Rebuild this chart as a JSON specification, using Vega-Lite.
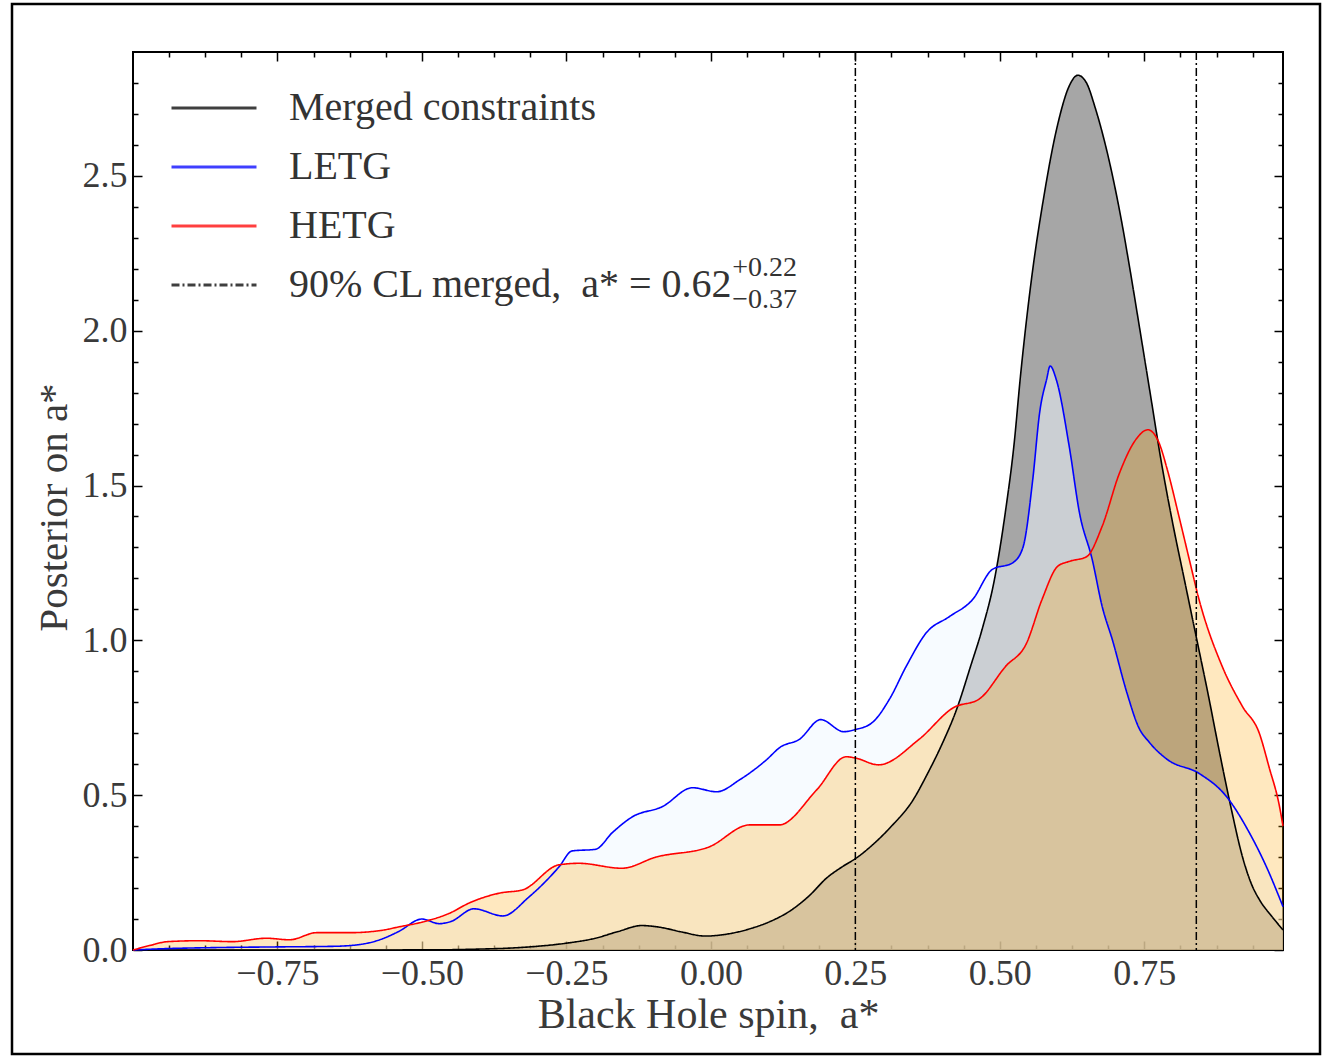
{
  "$schema": "https://vega.github.io/schema/vega-lite/v6.json",
  "width": 1150,
  "height": 898,
  "autosize": {"type": "none"},
  "padding": {"left": 133, "top": 52, "right": 42, "bottom": 107},
  "background": "white",
  "config": {
    "view": {"stroke": "black", "strokeWidth": 2},
    "font": "Liberation Serif",
    "axis": {
      "labelFont": "Liberation Serif",
      "titleFont": "Liberation Serif",
      "titleFontWeight": "normal",
      "labelColor": "#3a3a3a",
      "titleColor": "#3a3a3a",
      "grid": false,
      "domain": false,
      "tickColor": "black",
      "tickWidth": 1.5
    }
  },
  "datasets": {
    "curves": [
      {"series": "Merged constraints", "spin": -1.0, "density": 0},
      {"series": "Merged constraints", "spin": -0.6, "density": 0},
      {"series": "Merged constraints", "spin": -0.5, "density": 0.0005},
      {"series": "Merged constraints", "spin": -0.45, "density": 0.001},
      {"series": "Merged constraints", "spin": -0.4, "density": 0.003},
      {"series": "Merged constraints", "spin": -0.35, "density": 0.006},
      {"series": "Merged constraints", "spin": -0.3, "density": 0.012},
      {"series": "Merged constraints", "spin": -0.25, "density": 0.022},
      {"series": "Merged constraints", "spin": -0.2, "density": 0.038},
      {"series": "Merged constraints", "spin": -0.16, "density": 0.06},
      {"series": "Merged constraints", "spin": -0.12, "density": 0.079},
      {"series": "Merged constraints", "spin": -0.09, "density": 0.074},
      {"series": "Merged constraints", "spin": -0.05, "density": 0.058},
      {"series": "Merged constraints", "spin": -0.01, "density": 0.045},
      {"series": "Merged constraints", "spin": 0.03, "density": 0.052},
      {"series": "Merged constraints", "spin": 0.07, "density": 0.07},
      {"series": "Merged constraints", "spin": 0.1, "density": 0.09},
      {"series": "Merged constraints", "spin": 0.14, "density": 0.13},
      {"series": "Merged constraints", "spin": 0.17, "density": 0.175},
      {"series": "Merged constraints", "spin": 0.2, "density": 0.232},
      {"series": "Merged constraints", "spin": 0.23, "density": 0.272},
      {"series": "Merged constraints", "spin": 0.25, "density": 0.295},
      {"series": "Merged constraints", "spin": 0.28, "density": 0.34},
      {"series": "Merged constraints", "spin": 0.31, "density": 0.395},
      {"series": "Merged constraints", "spin": 0.35, "density": 0.485},
      {"series": "Merged constraints", "spin": 0.375, "density": 0.57},
      {"series": "Merged constraints", "spin": 0.4, "density": 0.665},
      {"series": "Merged constraints", "spin": 0.425, "density": 0.776},
      {"series": "Merged constraints", "spin": 0.45, "density": 0.92},
      {"series": "Merged constraints", "spin": 0.47, "density": 1.04},
      {"series": "Merged constraints", "spin": 0.49, "density": 1.19},
      {"series": "Merged constraints", "spin": 0.51, "density": 1.42},
      {"series": "Merged constraints", "spin": 0.525, "density": 1.64},
      {"series": "Merged constraints", "spin": 0.535, "density": 1.84},
      {"series": "Merged constraints", "spin": 0.555, "density": 2.17},
      {"series": "Merged constraints", "spin": 0.575, "density": 2.42},
      {"series": "Merged constraints", "spin": 0.6, "density": 2.665},
      {"series": "Merged constraints", "spin": 0.62, "density": 2.79},
      {"series": "Merged constraints", "spin": 0.635, "density": 2.825},
      {"series": "Merged constraints", "spin": 0.65, "density": 2.8},
      {"series": "Merged constraints", "spin": 0.665, "density": 2.72},
      {"series": "Merged constraints", "spin": 0.68, "density": 2.62},
      {"series": "Merged constraints", "spin": 0.695, "density": 2.5},
      {"series": "Merged constraints", "spin": 0.71, "density": 2.36},
      {"series": "Merged constraints", "spin": 0.725, "density": 2.2},
      {"series": "Merged constraints", "spin": 0.74, "density": 2.03},
      {"series": "Merged constraints", "spin": 0.76, "density": 1.8},
      {"series": "Merged constraints", "spin": 0.78, "density": 1.57},
      {"series": "Merged constraints", "spin": 0.8, "density": 1.37},
      {"series": "Merged constraints", "spin": 0.82, "density": 1.19},
      {"series": "Merged constraints", "spin": 0.84, "density": 1.01},
      {"series": "Merged constraints", "spin": 0.86, "density": 0.83},
      {"series": "Merged constraints", "spin": 0.88, "density": 0.64},
      {"series": "Merged constraints", "spin": 0.9, "density": 0.46},
      {"series": "Merged constraints", "spin": 0.92, "density": 0.3},
      {"series": "Merged constraints", "spin": 0.935, "density": 0.215},
      {"series": "Merged constraints", "spin": 0.95, "density": 0.16},
      {"series": "Merged constraints", "spin": 0.97, "density": 0.11},
      {"series": "Merged constraints", "spin": 0.99, "density": 0.065},

      {"series": "LETG", "spin": -1.0, "density": 0},
      {"series": "LETG", "spin": -0.95, "density": 0.004},
      {"series": "LETG", "spin": -0.85, "density": 0.008},
      {"series": "LETG", "spin": -0.75, "density": 0.01},
      {"series": "LETG", "spin": -0.65, "density": 0.012},
      {"series": "LETG", "spin": -0.6, "density": 0.02},
      {"series": "LETG", "spin": -0.57, "density": 0.035},
      {"series": "LETG", "spin": -0.54, "density": 0.06},
      {"series": "LETG", "spin": -0.5, "density": 0.1},
      {"series": "LETG", "spin": -0.47, "density": 0.085},
      {"series": "LETG", "spin": -0.45, "density": 0.092},
      {"series": "LETG", "spin": -0.41, "density": 0.133},
      {"series": "LETG", "spin": -0.36, "density": 0.11},
      {"series": "LETG", "spin": -0.315, "density": 0.171},
      {"series": "LETG", "spin": -0.263, "density": 0.268},
      {"series": "LETG", "spin": -0.24, "density": 0.32},
      {"series": "LETG", "spin": -0.2, "density": 0.325},
      {"series": "LETG", "spin": -0.17, "density": 0.38},
      {"series": "LETG", "spin": -0.136, "density": 0.43},
      {"series": "LETG", "spin": -0.084, "density": 0.463},
      {"series": "LETG", "spin": -0.032, "density": 0.524},
      {"series": "LETG", "spin": 0.01, "density": 0.511},
      {"series": "LETG", "spin": 0.05, "density": 0.55},
      {"series": "LETG", "spin": 0.096, "density": 0.614},
      {"series": "LETG", "spin": 0.12, "density": 0.655},
      {"series": "LETG", "spin": 0.153, "density": 0.68},
      {"series": "LETG", "spin": 0.19, "density": 0.744},
      {"series": "LETG", "spin": 0.23, "density": 0.705},
      {"series": "LETG", "spin": 0.25, "density": 0.712},
      {"series": "LETG", "spin": 0.279, "density": 0.734},
      {"series": "LETG", "spin": 0.309, "density": 0.81},
      {"series": "LETG", "spin": 0.338, "density": 0.916},
      {"series": "LETG", "spin": 0.373, "density": 1.025},
      {"series": "LETG", "spin": 0.413, "density": 1.077},
      {"series": "LETG", "spin": 0.453, "density": 1.132},
      {"series": "LETG", "spin": 0.487, "density": 1.229},
      {"series": "LETG", "spin": 0.522, "density": 1.25},
      {"series": "LETG", "spin": 0.54, "density": 1.3},
      {"series": "LETG", "spin": 0.557, "density": 1.52},
      {"series": "LETG", "spin": 0.569, "density": 1.737},
      {"series": "LETG", "spin": 0.581, "density": 1.843},
      {"series": "LETG", "spin": 0.587, "density": 1.886},
      {"series": "LETG", "spin": 0.598, "density": 1.84},
      {"series": "LETG", "spin": 0.62, "density": 1.627},
      {"series": "LETG", "spin": 0.638, "density": 1.41},
      {"series": "LETG", "spin": 0.66, "density": 1.26},
      {"series": "LETG", "spin": 0.677, "density": 1.11},
      {"series": "LETG", "spin": 0.695, "density": 1.0},
      {"series": "LETG", "spin": 0.72, "density": 0.83},
      {"series": "LETG", "spin": 0.74, "density": 0.72},
      {"series": "LETG", "spin": 0.759, "density": 0.67},
      {"series": "LETG", "spin": 0.79, "density": 0.615},
      {"series": "LETG", "spin": 0.845, "density": 0.57},
      {"series": "LETG", "spin": 0.892, "density": 0.496},
      {"series": "LETG", "spin": 0.932, "density": 0.378},
      {"series": "LETG", "spin": 0.961, "density": 0.27},
      {"series": "LETG", "spin": 0.99, "density": 0.14},

      {"series": "HETG", "spin": -1.0, "density": 0},
      {"series": "HETG", "spin": -0.97, "density": 0.015},
      {"series": "HETG", "spin": -0.94, "density": 0.027},
      {"series": "HETG", "spin": -0.885, "density": 0.03},
      {"series": "HETG", "spin": -0.828, "density": 0.027},
      {"series": "HETG", "spin": -0.769, "density": 0.038},
      {"series": "HETG", "spin": -0.729, "density": 0.033},
      {"series": "HETG", "spin": -0.682, "density": 0.056},
      {"series": "HETG", "spin": -0.625, "density": 0.056},
      {"series": "HETG", "spin": -0.568, "density": 0.064},
      {"series": "HETG", "spin": -0.539, "density": 0.075},
      {"series": "HETG", "spin": -0.5, "density": 0.09},
      {"series": "HETG", "spin": -0.452, "density": 0.119},
      {"series": "HETG", "spin": -0.418, "density": 0.152},
      {"series": "HETG", "spin": -0.365, "density": 0.184},
      {"series": "HETG", "spin": -0.326, "density": 0.194},
      {"series": "HETG", "spin": -0.263, "density": 0.275},
      {"series": "HETG", "spin": -0.228, "density": 0.28},
      {"series": "HETG", "spin": -0.154, "density": 0.264},
      {"series": "HETG", "spin": -0.095, "density": 0.3},
      {"series": "HETG", "spin": -0.003, "density": 0.333},
      {"series": "HETG", "spin": 0.067, "density": 0.404},
      {"series": "HETG", "spin": 0.118, "density": 0.404},
      {"series": "HETG", "spin": 0.183, "density": 0.517},
      {"series": "HETG", "spin": 0.234, "density": 0.624},
      {"series": "HETG", "spin": 0.25, "density": 0.62},
      {"series": "HETG", "spin": 0.29, "density": 0.598},
      {"series": "HETG", "spin": 0.36, "density": 0.68},
      {"series": "HETG", "spin": 0.42, "density": 0.783},
      {"series": "HETG", "spin": 0.464, "density": 0.81},
      {"series": "HETG", "spin": 0.51, "density": 0.916},
      {"series": "HETG", "spin": 0.546, "density": 0.99},
      {"series": "HETG", "spin": 0.573, "density": 1.132},
      {"series": "HETG", "spin": 0.6, "density": 1.239},
      {"series": "HETG", "spin": 0.62, "density": 1.255},
      {"series": "HETG", "spin": 0.65, "density": 1.27},
      {"series": "HETG", "spin": 0.677, "density": 1.368},
      {"series": "HETG", "spin": 0.707, "density": 1.54},
      {"series": "HETG", "spin": 0.736, "density": 1.65},
      {"series": "HETG", "spin": 0.756, "density": 1.68},
      {"series": "HETG", "spin": 0.775, "density": 1.64},
      {"series": "HETG", "spin": 0.79, "density": 1.55},
      {"series": "HETG", "spin": 0.81, "density": 1.4},
      {"series": "HETG", "spin": 0.828, "density": 1.26},
      {"series": "HETG", "spin": 0.845, "density": 1.13},
      {"series": "HETG", "spin": 0.885, "density": 0.915},
      {"series": "HETG", "spin": 0.92, "density": 0.786},
      {"series": "HETG", "spin": 0.949, "density": 0.7},
      {"series": "HETG", "spin": 0.966, "density": 0.59},
      {"series": "HETG", "spin": 0.984, "density": 0.463},
      {"series": "HETG", "spin": 0.99, "density": 0.4}
    ],
    "bounds": [
      {"series": "90% CL merged,\u00a0\u00a0a* = 0.62", "spin": 0.25},
      {"series": "90% CL merged,\u00a0\u00a0a* = 0.62", "spin": 0.84}
    ]
  },
  "layer": [
    {
      "description": "Merged posterior, filled; carries the labelled bottom and left axes",
      "data": {"name": "curves"},
      "transform": [{"filter": "datum.series === 'Merged constraints'"}],
      "mark": {"type": "area", "interpolate": "monotone", "color": "#808080", "fillOpacity": 0.7},
      "encoding": {
        "x": {
          "field": "spin", "type": "quantitative",
          "scale": {"domain": [-1, 0.99], "nice": false, "zero": false},
          "axis": {
            "orient": "bottom",
            "values": [-0.75, -0.5, -0.25, 0, 0.25, 0.5, 0.75],
            "format": ".2f",
            "tickSize": -9,
            "labelPadding": 15,
            "labelFontSize": 36,
            "title": "Black Hole spin,\u00a0\u00a0a*",
            "titleFontSize": 42,
            "titleX": 575,
            "titleY": 77,
            "titleBaseline": "alphabetic"
          }
        },
        "y": {
          "field": "density", "type": "quantitative",
          "scale": {"domain": [0, 2.9], "nice": false},
          "axis": {
            "orient": "left",
            "values": [0, 0.5, 1, 1.5, 2, 2.5],
            "format": ".1f",
            "tickSize": -9,
            "labelPadding": 15,
            "labelFontSize": 36,
            "title": "Posterior on a*",
            "titleFontSize": 41,
            "titleAngle": -90,
            "titleX": -67,
            "titleY": 455,
            "titleBaseline": "alphabetic"
          }
        }
      }
    },
    {
      "description": "LETG posterior, filled; carries the bottom and left minor ticks",
      "data": {"name": "curves"},
      "transform": [{"filter": "datum.series === 'LETG'"}],
      "mark": {"type": "area", "interpolate": "monotone", "color": "#f0f8ff", "fillOpacity": 0.5},
      "encoding": {
        "x": {
          "field": "spin", "type": "quantitative",
          "axis": {
            "orient": "bottom", "labels": false, "title": null, "tickSize": -5,
            "values": [-0.9375, -0.875, -0.8125, -0.6875, -0.625, -0.5625, -0.4375, -0.375, -0.3125, -0.1875, -0.125, -0.0625, 0.0625, 0.125, 0.1875, 0.3125, 0.375, 0.4375, 0.5625, 0.625, 0.6875, 0.8125, 0.875, 0.9375]
          }
        },
        "y": {
          "field": "density", "type": "quantitative",
          "axis": {
            "orient": "left", "labels": false, "title": null, "tickSize": -5,
            "values": [0.1, 0.2, 0.3, 0.4, 0.6, 0.7, 0.8, 0.9, 1.1, 1.2, 1.3, 1.4, 1.6, 1.7, 1.8, 1.9, 2.1, 2.2, 2.3, 2.4, 2.6, 2.7, 2.8]
          }
        }
      }
    },
    {
      "description": "HETG posterior, filled; carries the top and right major ticks",
      "data": {"name": "curves"},
      "transform": [{"filter": "datum.series === 'HETG'"}],
      "mark": {"type": "area", "interpolate": "monotone", "color": "#ffa500", "fillOpacity": 0.25},
      "encoding": {
        "x": {
          "field": "spin", "type": "quantitative",
          "axis": {"orient": "top", "labels": false, "title": null, "tickSize": -9, "values": [-0.75, -0.5, -0.25, 0, 0.25, 0.5, 0.75]}
        },
        "y": {
          "field": "density", "type": "quantitative",
          "axis": {"orient": "right", "labels": false, "title": null, "tickSize": -9, "values": [0, 0.5, 1, 1.5, 2, 2.5]}
        }
      }
    },
    {
      "description": "Outline of each posterior; carries the top and right minor ticks and the legend",
      "data": {"name": "curves"},
      "mark": {"type": "line", "interpolate": "monotone", "strokeWidth": 1.6},
      "encoding": {
        "x": {
          "field": "spin", "type": "quantitative",
          "axis": {
            "orient": "top", "labels": false, "title": null, "tickSize": -5,
            "values": [-0.9375, -0.875, -0.8125, -0.6875, -0.625, -0.5625, -0.4375, -0.375, -0.3125, -0.1875, -0.125, -0.0625, 0.0625, 0.125, 0.1875, 0.3125, 0.375, 0.4375, 0.5625, 0.625, 0.6875, 0.8125, 0.875, 0.9375]
          }
        },
        "y": {
          "field": "density", "type": "quantitative",
          "axis": {
            "orient": "right", "labels": false, "title": null, "tickSize": -5,
            "values": [0.1, 0.2, 0.3, 0.4, 0.6, 0.7, 0.8, 0.9, 1.1, 1.2, 1.3, 1.4, 1.6, 1.7, 1.8, 1.9, 2.1, 2.2, 2.3, 2.4, 2.6, 2.7, 2.8]
          }
        },
        "color": {
          "field": "series", "type": "nominal",
          "scale": {
            "domain": ["Merged constraints", "LETG", "HETG", "90% CL merged,\u00a0\u00a0a* = 0.62"],
            "range": ["black", "#0000ff", "#ff0000", "black"]
          },
          "legend": {
            "orient": "none", "legendX": 58, "legendY": 33, "title": null,
            "symbolType": "M-2,0H2", "symbolSize": 1806, "symbolStrokeWidth": 3, "symbolOpacity": 0.75,
            "labelFont": "Liberation Serif", "labelFontSize": 40, "labelColor": "#333333",
            "labelOffset": 52, "labelLimit": 0, "rowPadding": 16, "padding": 0
          }
        },
        "strokeDash": {
          "field": "series", "type": "nominal",
          "scale": {
            "domain": ["Merged constraints", "LETG", "HETG", "90% CL merged,\u00a0\u00a0a* = 0.62"],
            "range": [[1, 0], [1, 0], [1, 0], [8, 3, 2, 3]]
          },
          "legend": {
            "orient": "none", "legendX": 58, "legendY": 33, "title": null,
            "symbolType": "M-2,0H2", "symbolSize": 1806, "symbolStrokeWidth": 3, "symbolOpacity": 0.75,
            "labelFont": "Liberation Serif", "labelFontSize": 40, "labelColor": "#333333",
            "labelOffset": 52, "labelLimit": 0, "rowPadding": 16, "padding": 0
          }
        }
      }
    },
    {
      "description": "90% credible bounds of the merged posterior",
      "data": {"name": "bounds"},
      "mark": {"type": "rule", "strokeWidth": 1.5},
      "encoding": {
        "x": {"field": "spin", "type": "quantitative", "axis": null},
        "color": {"field": "series", "type": "nominal"},
        "strokeDash": {"field": "series", "type": "nominal"}
      }
    },
    {
      "description": "Upper error on the merged spin, set as a superscript to the legend entry",
      "data": {"values": [{}]},
      "mark": {"type": "text", "text": "+0.22", "font": "Liberation Serif", "fontSize": 28, "color": "#333333", "align": "left", "baseline": "middle"},
      "encoding": {
        "x": {"datum": 0.037, "type": "quantitative", "axis": null},
        "y": {"datum": 2.2025, "type": "quantitative", "axis": null}
      }
    },
    {
      "description": "Lower error on the merged spin, set as a subscript to the legend entry",
      "data": {"values": [{}]},
      "mark": {"type": "text", "text": "\u22120.37", "font": "Liberation Serif", "fontSize": 28, "color": "#333333", "align": "left", "baseline": "middle"},
      "encoding": {
        "x": {"datum": 0.037, "type": "quantitative", "axis": null},
        "y": {"datum": 2.1, "type": "quantitative", "axis": null}
      }
    },
    {
      "description": "Figure border",
      "data": {"values": [{}]},
      "mark": {"type": "rect", "fill": null, "stroke": "black", "strokeWidth": 2.5, "clip": false},
      "encoding": {
        "x": {"value": -121},
        "x2": {"value": 1187},
        "y": {"value": -48},
        "y2": {"value": 1002}
      }
    }
  ],
  "resolve": {"axis": {"x": "independent", "y": "independent"}}
}
